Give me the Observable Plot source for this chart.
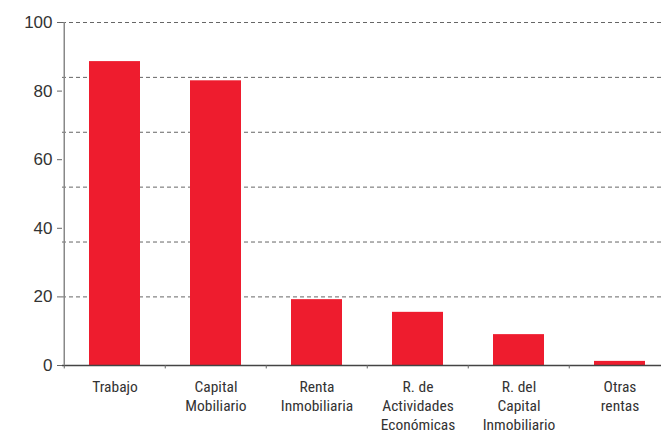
<!DOCTYPE html>
<html>
<head>
<meta charset="utf-8">
<script src="https://cdn.jsdelivr.net/npm/d3@7"></script>
<script src="https://cdn.jsdelivr.net/npm/@observablehq/plot@0.6"></script>
<style>
  html, body { margin: 0; padding: 0; background: #fff; }
  #chart svg { display: block; }
  .yax text { font-family: 'Liberation Sans', Arial, sans-serif; font-size: 17px; fill: #333; }
  .xax text { font-family: 'Liberation Sans Narrow', 'Arial Narrow', 'Roboto Condensed', sans-serif; font-size: 15.5px; fill: #333; }
</style>
</head>
<body>
<div id="chart"></div>
<script>
const categories = ["Trabajo", "Capital\nMobiliario", "Renta\nInmobiliaria", "R. de\nActividades\nEconómicas", "R. del\nCapital\nInmobiliario", "Otras\nrentas"];
const values = [88.6, 83, 19.2, 15.5, 9, 1.2];
const yTicks = [0, 20, 40, 60, 80, 100];
const gridLines = [20, 36, 52, 68, 84, 100];

const data = categories.map((c, i) => ({cat: c, value: values[i]}));

const W = 661, H = 431;
const mL = 62, mR = -10;
const step = (W - mL - mR) / categories.length;

const chart = Plot.plot({
  width: W,
  height: H,
  marginTop: 22,
  marginBottom: 66,
  marginLeft: mL,
  marginRight: mR,
  style: {background: "#fff", overflow: "hidden", fontFamily: "'Liberation Sans', Arial, sans-serif"},
  x: {domain: categories, paddingInner: 0.5, paddingOuter: 0.25, label: null},
  y: {domain: [0, 100], label: null},
  marks: [
    Plot.ruleY(gridLines, {stroke: "#666", strokeWidth: 1, strokeDasharray: "4,3"}),
    Plot.barY(data, {x: "cat", y: "value", fill: "#ee1c2e"}),
    Plot.ruleY([0], {stroke: "#444", strokeWidth: 1.5}),
    Plot.ruleX([categories[0]], {x: d => d, y1: 0, y2: 100, dx: -step / 2, stroke: "#888", strokeWidth: 1.5}),
    Plot.ruleX(categories, {x: d => d, y1: 0, y2: -1, dx: -step / 2, stroke: "#666", strokeWidth: 1}),
    Plot.axisY(yTicks, {
      tickSize: 5, tickPadding: 5, stroke: "#666",
      fontSize: 17, className: "yax",
      label: null
    }),
    Plot.axisX({
      tickSize: 0, tickPadding: 13,
      fontSize: 15.5, className: "xax",
      lineHeight: 1.22,
      label: null
    })
  ]
});
document.getElementById("chart").appendChild(chart);
</script>
</body>
</html>
